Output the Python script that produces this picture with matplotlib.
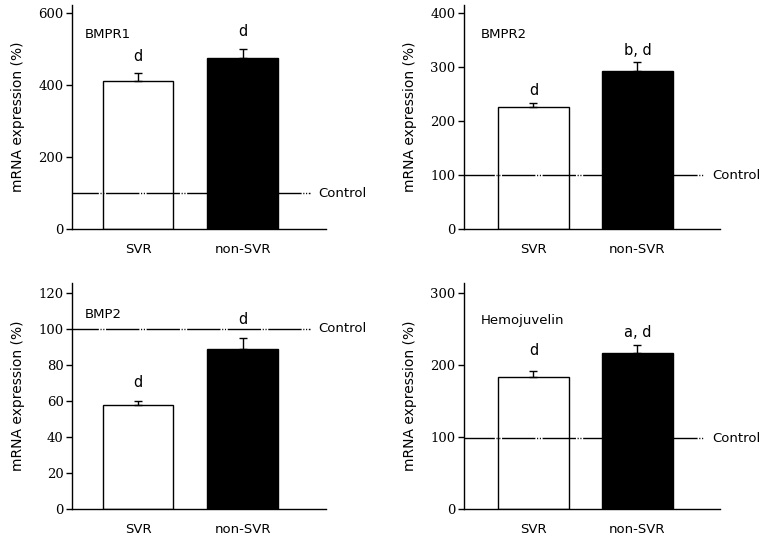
import matplotlib
matplotlib.use("Agg")
import matplotlib.pyplot as plt

groups = ["SVR", "non-SVR"]

panel_titles = ["BMPR1", "BMPR2", "BMP2", "Hemojuvelin"]
means = {
    "BMPR1": [411, 475],
    "BMPR2": [226, 293],
    "BMP2": [57.8, 88.9],
    "Hemojuvelin": [183, 217],
}
errors = {
    "BMPR1": [22, 25],
    "BMPR2": [7, 16],
    "BMP2": [2.2, 6.1],
    "Hemojuvelin": [9, 11],
}
sig_labels = {
    "BMPR1": ["d", "d"],
    "BMPR2": ["d", "b, d"],
    "BMP2": ["d", "d"],
    "Hemojuvelin": ["d", "a, d"],
}
control_value = {"BMPR1": 100, "BMPR2": 100, "BMP2": 100, "Hemojuvelin": 98}
yticks = {
    "BMPR1": [0, 200, 400, 600],
    "BMPR2": [0, 100, 200, 300, 400],
    "BMP2": [0, 20, 40, 60, 80, 100, 120],
    "Hemojuvelin": [0, 100, 200, 300],
}
ytop = {"BMPR1": 622, "BMPR2": 415, "BMP2": 125.5, "Hemojuvelin": 314}
# label y positions (data units) for panel name and sig letters
name_y = {"BMPR1": 540, "BMPR2": 360, "BMP2": 108, "Hemojuvelin": 262}
sig_y = {
    "BMPR1": [480, 548],
    "BMPR2": [256, 330],
    "BMP2": [70, 105],
    "Hemojuvelin": [220, 245],
}

fig = plt.figure(figsize=(7.69, 5.39), dpi=100)
rects = [
    [0.0936, 0.5751, 0.3303, 0.4156],
    [0.6034, 0.5751, 0.3329, 0.4156],
    [0.0936, 0.0557, 0.3303, 0.4193],
    [0.6034, 0.0557, 0.3329, 0.4193],
]
text_font = "DejaVu Sans"
tick_font = "DejaVu Serif"

for rect, name in zip(rects, panel_titles):
    ax = fig.add_axes(rect)
    x = [0, 1]
    ctrl = control_value[name]
    ax.bar(x, means[name], width=0.676, color=["white", "black"],
           edgecolor="black", linewidth=1.0, zorder=2)
    ax.errorbar(x, means[name], yerr=[[0, 0], errors[name]], fmt="none",
                ecolor="black", elinewidth=1.0, capsize=3.0, capthick=1.0, zorder=3)
    ax.plot([-0.7, 1.64], [ctrl, ctrl], color="black", lw=1.0,
            dashes=(24, 1.2, 0.8, 1.2, 0.8, 1.2), zorder=2.5)
    ax.text(1.72, ctrl, "Control", ha="left", va="center", fontsize=9.5,
            family=text_font, clip_on=False)
    ax.text(-0.51, name_y[name], name, ha="left", va="center", fontsize=9.5,
            family=text_font)
    for xi, lab, yy in zip(x, sig_labels[name], sig_y[name]):
        ax.text(xi, yy, lab, ha="center", va="center", fontsize=10.5, family=text_font)
    ax.set_xlim(-0.63 if name in ("BMPR1", "BMP2") else -0.668, 1.795)
    ax.set_ylim(0, ytop[name])
    ax.set_yticks(yticks[name])
    ax.set_yticklabels([str(t) for t in yticks[name]], family=tick_font, fontsize=9.5)
    ax.set_xticks(x)
    ax.set_xticklabels(groups, family=text_font, fontsize=9.5)
    ax.tick_params(axis="x", length=0, pad=10)
    ax.tick_params(axis="y", direction="out", length=4, width=1, pad=2)
    ax.spines["top"].set_visible(False)
    ax.spines["right"].set_visible(False)
    ax.spines["left"].set_linewidth(1.0)
    ax.spines["bottom"].set_linewidth(1.0)
    ax.set_ylabel("mRNA expression (%)", family=text_font, fontsize=10, labelpad=10)
    ax.patch.set_alpha(0)

fig.savefig("out.png", dpi=100)
